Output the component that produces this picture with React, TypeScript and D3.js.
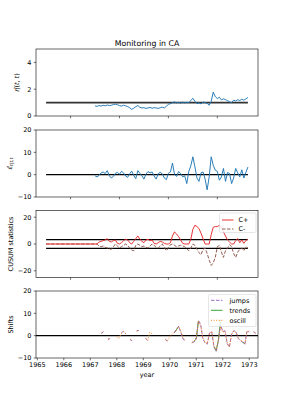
import React from 'react';
import * as d3 from 'd3';

const W = 287;
const H = 410;

// monthly series starting 1967.0
const startYear = 1967;
const etaHat = [0.75, 0.72, 0.78, 0.74, 0.80, 0.76, 0.82, 0.78, 0.80, 0.85, 0.88, 0.84, 0.78, 0.74, 0.80, 0.76, 0.70, 0.62, 0.50, 0.58, 0.70, 0.78, 0.65, 0.60, 0.62, 0.57, 0.60, 0.64, 0.58, 0.62, 0.60, 0.56, 0.62, 0.66, 0.60, 0.72, 0.88, 0.92, 1.00, 1.05, 0.98, 1.02, 0.96, 1.04, 0.98, 1.02, 1.00, 1.15, 1.32, 1.10, 0.92, 0.98, 0.90, 1.05, 1.00, 0.95, 0.80, 1.10, 1.78, 1.45, 1.30, 1.40, 1.20, 1.28, 1.22, 1.15, 1.05, 1.00, 1.18, 1.12, 1.22, 1.15, 1.25, 1.18, 1.28, 1.38];
const epsHat = [-0.5, -1.0, -0.3, 0.8, 1.2, 0.5, 1.8, -0.5, -1.5, -0.8, 0.6, 1.0, 0.2, 1.5, 0.8, -0.6, -1.2, 0.4, 1.6, -0.4, -1.8, 1.8, 0.6, -0.5, -2.0, 0.3, 1.4, 0.8, 1.2, -0.6, -2.0, 0.5, 1.0, 0.4, -1.5, -2.2, 0.6, 1.2, 5.2, 0.2, -0.8, 1.4, 0.5, -1.0, -0.5, -4.0, 1.5, 4.0, 8.0, 3.5, -1.5, -3.0, 0.8, 1.2, -2.0, -6.8, -1.0, 8.0, 4.2, 2.0, 1.5, -2.5, -1.0, 2.8, -3.0, 1.0, 0.5, -4.0, -1.5, 2.8, 0.8, -1.0, 2.2, -1.5, 1.0, 3.4];
const cPlus = [0, 0, 1.5, 2.0, 2.5, 3.0, 4.0, 2.0, 1.5, 2.5, 3.0, 0.5, 0, 1.0, 2.5, 3.5, 3.0, 1.0, 0, 2.0, 4.0, 6.0, 3.5, 2.0, 1.0, 3.0, 3.5, 2.5, 3.0, 0.5, 0, 1.0, 2.0, 1.5, 0.5, 0, 0, 1.0, 6.0, 9.0, 7.5, 5.5, 3.0, 0.5, 0, 0, 0, 3.5, 11.0, 14.0, 13.0, 11.5, 8.0, 4.0, 0, 0, 0, 7.0, 12.5, 13.0, 13.0, 14.0, 12.0, 9.0, 6.0, 3.0, 1.5, 0, 0, 2.5, 4.0, 1.0, 3.0, 0.5, 2.5, 3.5];
const cMinus = [0, 0, -1.5, -2.0, -1.5, -2.5, -3.0, -3.5, -4.0, -2.0, 0, -1.5, -3.0, -2.0, -1.0, 0, -1.0, -3.0, -4.5, -5.0, -1.0, 0, -1.0, -2.0, -1.5, -2.5, -3.0, -1.5, 0, -1.0, -2.5, -3.0, -1.5, 0, -2.5, -5.0, -3.0, -0.5, 0, -1.0, -2.0, -1.5, -1.0, -1.5, -2.0, -3.5, -5.0, -3.0, 0, -1.0, -4.0, -6.5, -8.0, -4.0, -3.0, -7.0, -12.0, -16.0, -14.0, -10.0, -2.0, -1.0, -6.0, -10.0, -5.0, -3.0, -0.5, -2.0, -7.0, -10.0, -6.0, -4.0, -3.0, -5.0, -2.0, -3.0];
const threshold = 3.2;
const refStart = 1965;
const refEnd = 1973.25;

const N = null;
const oscill = [N, N, N, N, N, 1.2, 2.0, N, -1.5, -1.0, N, N, -0.5, -1.2, 1.0, 1.8, 1.0, N, -1.5, -2.0, N, 2.0, 2.2, N, N, -1.0, -2.0, 1.5, 0.8, N, N, N, N, N, -1.5, -2.2, -0.5, 0.5, 1.5, 2.5, 4.0, 2.0, -1.0, -2.0, N, N, -3.0, -2.5, -1.0, 6.5, 4.5, -1.0, -3.0, -3.5, 1.0, 2.0, -4.5, -6.5, -2.0, 4.0, 1.5, 2.0, -3.0, -5.0, 0.5, 2.0, 1.5, -1.0, -2.0, -2.5, -3.5, 2.0, 1.5, N, 1.5, 0.8];
const jumps = [N, N, N, N, N, 1.0, 1.8, N, -1.8, -1.2, N, N, N, N, 1.2, 2.0, 0.8, N, -1.8, -2.2, N, 2.2, 2.4, N, N, -1.2, -2.2, N, N, N, N, N, N, N, -1.8, -2.4, N, N, 1.2, 2.8, 4.2, 1.5, -1.5, -2.2, N, N, -3.2, -2.8, -1.5, 6.8, 5.0, -1.5, -3.2, -3.8, 1.2, 1.8, -5.0, -7.0, -2.5, 5.0, 1.8, 2.2, -3.5, -5.2, 0.8, 2.2, 1.8, -1.2, -2.2, -3.0, -3.8, 2.2, 1.8, N, 1.8, 1.0];
const trends = [N, N, N, N, N, N, N, N, N, N, N, N, N, N, N, N, N, N, N, N, N, N, N, N, N, N, N, N, N, N, N, N, N, N, N, N, N, N, 1.2, 2.6, 4.1, N, N, N, N, N, N, -2.6, -1.2, 6.6, N, N, N, N, N, N, -4.8, -6.8, -2.2, 7.0, N, N, N, N, N, N, N, N, N, -2.8, -3.8, N, N, N, N, N];

const topTicksX = [1966, 1968, 1970, 1972];
const bottomTicksX = [1965, 1966, 1967, 1968, 1969, 1970, 1971, 1972, 1973];
const yTicks1 = [0, 2, 4];
const yTicks2 = [-10, 0, 10, 20];
const yTicks3 = [-20, 0, 20];
const yTicks4 = [-10, 0, 10, 20];

const FONT = 'DejaVu Sans, sans-serif';
const FS = 6.5;
const BLUE = '#1f77b4';
const RED = '#e8282b';
const BROWN = '#8c564b';
const PURPLE = '#9467bd';
const GREEN = '#2ca02c';
const ORANGE = '#ff7f0e';

const L = 36, R = 258;
const panels = [
  { top: 49, bottom: 116 },
  { top: 130, bottom: 197 },
  { top: 210.5, bottom: 277.5 },
  { top: 291, bottom: 358 },
];

const margin = (refEnd - refStart) * 0.05;
const xTop = d3.scaleLinear().domain([refStart - margin, refEnd + margin]).range([L, R]);
const xBot = d3.scaleLinear().domain([1964.95, 1973.33]).range([L, R]);

const tOf = (i: number) => startYear + i / 12;
const fmt = (v: number) => (v < 0 ? '\u2212' + Math.abs(v) : String(v));

type Pt = { t: number; v: number | null };
const toPts = (arr: (number | null)[]): Pt[] => arr.map((v, i) => ({ t: tOf(i), v }));

function Frame({ p, x, y, xTicks, yTicks, xLabels }: any) {
  return (
    <g>
      {xTicks.map((t: number) => (
        <g key={'x' + t}>
          <line x1={x(t)} x2={x(t)} y1={p.bottom} y2={p.bottom + 2.3} stroke="#000" strokeWidth={0.55} />
          {xLabels && (
            <text x={x(t)} y={p.bottom + 9.4} fontSize={FS} textAnchor="middle" fontFamily={FONT}>{t}</text>
          )}
        </g>
      ))}
      {yTicks.map((v: number) => (
        <g key={'y' + v}>
          <line x1={L - 2.3} x2={L} y1={y(v)} y2={y(v)} stroke="#000" strokeWidth={0.55} />
          <text x={L - 4.5} y={y(v) + 2.3} fontSize={FS} textAnchor="end" fontFamily={FONT}>{fmt(v)}</text>
        </g>
      ))}
      <rect x={L} y={p.top} width={R - L} height={p.bottom - p.top} fill="none" stroke="#000" strokeWidth={0.6} />
    </g>
  );
}

export default function App() {
  const y1 = d3.scaleLinear().domain([0, 5]).range([panels[0].bottom, panels[0].top]);
  const y2 = d3.scaleLinear().domain([-10, 20]).range([panels[1].bottom, panels[1].top]);
  const y3 = d3.scaleLinear().domain([-25, 25]).range([panels[2].bottom, panels[2].top]);
  const y4 = d3.scaleLinear().domain([-10, 20]).range([panels[3].bottom, panels[3].top]);

  const mkLine = (x: any, y: any) =>
    d3.line<Pt>().defined((d) => d.v !== null).x((d) => x(d.t)).y((d) => y(d.v as number));

  const l1 = mkLine(xTop, y1);
  const l2 = mkLine(xTop, y2);
  const l3 = mkLine(xTop, y3);
  const l4 = mkLine(xBot, y4);

  const cusumP = [{ t: refStart, v: 0 }, ...toPts(cPlus)];
  const cusumM = [{ t: refStart, v: 0 }, ...toPts(cMinus)];

  const hl = (x: any, y: any, v: number, color: string, w: number) => (
    <line x1={x(refStart)} x2={x(refEnd)} y1={y(v)} y2={y(v)} stroke={color} strokeWidth={w} />
  );

  const LW = 0.95;

  return (
    <svg width={W} height={H} style={{ position: 'absolute', left: 0, top: 0 }}>
      <rect width={W} height={H} fill="#fff" />
      <text x={(L + R) / 2} y={45.5} fontSize={7.8} textAnchor="middle" fontFamily={FONT}>Monitoring in CA</text>

      {/* Panel 1 */}
      {hl(xTop, y1, 1, '#333', 1.9)}
      <path d={l1(toPts(etaHat)) || ''} fill="none" stroke={BLUE} strokeWidth={LW} />
      <Frame p={panels[0]} x={xTop} y={y1} xTicks={topTicksX} yTicks={yTicks1} xLabels={false} />
      <text transform={`translate(18.5,${(panels[0].top + panels[0].bottom) / 2}) rotate(-90)`} fontSize={FS} textAnchor="middle" fontFamily={FONT}>
        <tspan fontStyle="italic">η̂</tspan>(<tspan fontStyle="italic">t</tspan>, <tspan fontStyle="italic">t</tspan>)
      </text>

      {/* Panel 2 */}
      {hl(xTop, y2, 0, '#000', 1.2)}
      <path d={l2(toPts(epsHat)) || ''} fill="none" stroke={BLUE} strokeWidth={LW} />
      <Frame p={panels[1]} x={xTop} y={y2} xTicks={topTicksX} yTicks={yTicks2} xLabels={false} />
      <text transform={`translate(11.5,${(panels[1].top + panels[1].bottom) / 2}) rotate(-90)`} fontSize={FS} textAnchor="middle" fontFamily={FONT}>
        <tspan fontStyle="italic">ε̂</tspan><tspan fontSize={4.6} dy={1.8} fontStyle="italic">t|t,t</tspan>
      </text>

      {/* Panel 3 */}
      {hl(xTop, y3, threshold, '#000', 1.2)}
      {hl(xTop, y3, -threshold, '#000', 1.2)}
      <path d={l3(cusumM) || ''} fill="none" stroke={BROWN} strokeWidth={LW} strokeDasharray="3.5,1.5" />
      <path d={l3(cusumP) || ''} fill="none" stroke={RED} strokeWidth={LW} />
      <Frame p={panels[2]} x={xTop} y={y3} xTicks={topTicksX} yTicks={yTicks3} xLabels={false} />
      <text transform={`translate(12.5,${(panels[2].top + panels[2].bottom) / 2}) rotate(-90)`} fontSize={FS} textAnchor="middle" fontFamily={FONT}>CUSUM statistics</text>
      <g>
        <rect x={219.5} y={213} width={36.5} height={19.5} rx={1.5} fill="#fff" fillOpacity={0.8} stroke="#ccc" strokeWidth={0.5} />
        <line x1={222} x2={233.5} y1={220} y2={220} stroke={RED} strokeWidth={LW} />
        <text x={238.5} y={222.3} fontSize={FS} fontFamily={FONT}>C+</text>
        <line x1={222} x2={233.5} y1={229} y2={229} stroke={BROWN} strokeWidth={LW} strokeDasharray="3.5,1.5" />
        <text x={238.5} y={231.3} fontSize={FS} fontFamily={FONT}>C-</text>
      </g>

      {/* Panel 4 */}
      <line x1={L} x2={R} y1={y4(0)} y2={y4(0)} stroke="#000" strokeWidth={1.3} />
      <path d={l4(toPts(trends)) || ''} fill="none" stroke={GREEN} strokeWidth={LW} />
      <path d={l4(toPts(jumps)) || ''} fill="none" stroke={PURPLE} strokeWidth={LW} strokeDasharray="3.5,1.5" />
      <path d={l4(toPts(oscill)) || ''} fill="none" stroke={ORANGE} strokeWidth={LW} strokeDasharray="1,1.6" />
      <Frame p={panels[3]} x={xBot} y={y4} xTicks={bottomTicksX} yTicks={yTicks4} xLabels={true} />
      <text transform={`translate(12.5,${(panels[3].top + panels[3].bottom) / 2}) rotate(-90)`} fontSize={FS} textAnchor="middle" fontFamily={FONT}>Shifts</text>
      <text x={(L + R) / 2} y={377} fontSize={FS} textAnchor="middle" fontFamily={FONT}>year</text>
      <g>
        <rect x={208.5} y={294.5} width={47.5} height={32} rx={1.5} fill="#fff" fillOpacity={0.8} stroke="#ccc" strokeWidth={0.5} />
        <line x1={211} x2={222.5} y1={300.3} y2={300.3} stroke={PURPLE} strokeWidth={LW} strokeDasharray="3.5,1.5" />
        <text x={229.5} y={302.6} fontSize={FS} fontFamily={FONT}>jumps</text>
        <line x1={211} x2={222.5} y1={310.3} y2={310.3} stroke={GREEN} strokeWidth={LW} />
        <text x={229.5} y={312.6} fontSize={FS} fontFamily={FONT}>trends</text>
        <line x1={211} x2={222.5} y1={320.3} y2={320.3} stroke={ORANGE} strokeWidth={LW} strokeDasharray="1,1.6" />
        <text x={229.5} y={322.6} fontSize={FS} fontFamily={FONT}>oscill</text>
      </g>
    </svg>
  );
}
